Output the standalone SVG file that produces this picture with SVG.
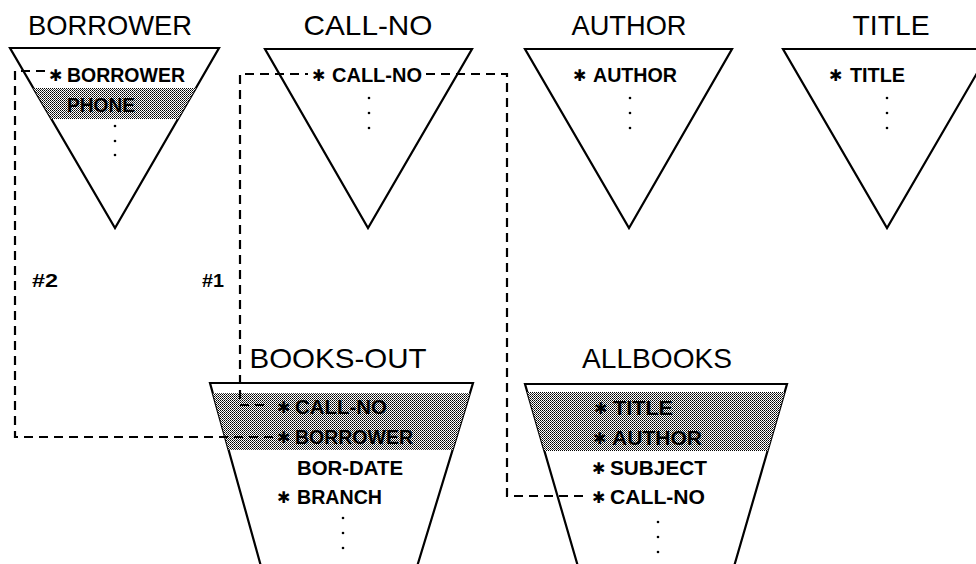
<svg xmlns="http://www.w3.org/2000/svg" width="976" height="564" viewBox="0 0 976 564">
  <defs>
    <pattern id="dither" patternUnits="userSpaceOnUse" width="2" height="2">
      <rect width="2" height="2" fill="#ffffff"/>
      <rect x="0" y="0" width="1" height="1" fill="#000000"/>
      <rect x="1" y="1" width="1" height="1" fill="#3a3a3a"/>
    </pattern>
    <clipPath id="clipBorrower"><polygon points="10,48 219,48 115,228"/></clipPath>
    <clipPath id="clipBooksOut"><path d="M 262 570 L 210 383 L 473 383 L 416 570 Z"/></clipPath>
    <clipPath id="clipAllbooks"><path d="M 579 570 L 525 384 L 787 384 L 733 570 Z"/></clipPath>
  </defs>
  <style>
    .shape { fill: #ffffff; stroke: #000000; stroke-width: 2.2; stroke-linejoin: miter; }
    .band { fill: url(#dither); stroke: none; }
    .title { font-family: "Liberation Sans", Arial, sans-serif; font-size: 28px; fill: #000000; text-anchor: middle; }
    .field { font-family: "Liberation Sans", Arial, sans-serif; font-size: 21px; font-weight: bold; fill: #000000; }
    .star { font-family: "DejaVu Sans", sans-serif; font-size: 16px; fill: #000000; }
    .label { font-family: "Liberation Sans", Arial, sans-serif; font-size: 19px; font-weight: bold; fill: #000000; }
    .dot { fill: #000000; }
    .conn { fill: none; stroke: #000000; stroke-width: 2.2; stroke-dasharray: 9 6; }
  </style>
  <rect width="976" height="564" fill="#ffffff"/>

  <g id="node-borrower">
    <text class="title" x="110" y="35" textLength="164" lengthAdjust="spacingAndGlyphs">BORROWER</text>
    <polygon class="shape" points="10,48 219,48 115,228"/>
    <rect class="band" x="0" y="88" width="230" height="31" clip-path="url(#clipBorrower)"/>
    <text class="star" x="49" y="81">✱</text>
    <text class="field" x="67" y="82" textLength="118" lengthAdjust="spacingAndGlyphs">BORROWER</text>
    <text class="field" x="67" y="112" textLength="68" lengthAdjust="spacingAndGlyphs">PHONE</text>
    <circle class="dot" cx="115" cy="126" r="1.3"/>
    <circle class="dot" cx="115" cy="141" r="1.3"/>
    <circle class="dot" cx="115" cy="155" r="1.3"/>
  </g>

  <g id="node-callno">
    <text class="title" x="368" y="35" textLength="129" lengthAdjust="spacingAndGlyphs">CALL-NO</text>
    <polygon class="shape" points="265,49 472,49 368,228"/>
    <text class="star" x="312" y="81">✱</text>
    <text class="field" x="332" y="82" textLength="90" lengthAdjust="spacingAndGlyphs">CALL-NO</text>
    <circle class="dot" cx="369" cy="98" r="1.3"/>
    <circle class="dot" cx="369" cy="113" r="1.3"/>
    <circle class="dot" cx="369" cy="128" r="1.3"/>
  </g>

  <g id="node-author">
    <text class="title" x="629" y="35" textLength="115" lengthAdjust="spacingAndGlyphs">AUTHOR</text>
    <polygon class="shape" points="525,49 732,49 629,228"/>
    <text class="star" x="573" y="81">✱</text>
    <text class="field" x="593" y="82" textLength="84" lengthAdjust="spacingAndGlyphs">AUTHOR</text>
    <circle class="dot" cx="630" cy="98" r="1.3"/>
    <circle class="dot" cx="630" cy="113" r="1.3"/>
    <circle class="dot" cx="630" cy="128" r="1.3"/>
  </g>

  <g id="node-title">
    <text class="title" x="891" y="35" textLength="77" lengthAdjust="spacingAndGlyphs">TITLE</text>
    <polygon class="shape" points="783,49 991,49 887,228"/>
    <text class="star" x="829" y="81">✱</text>
    <text class="field" x="850" y="82" textLength="55" lengthAdjust="spacingAndGlyphs">TITLE</text>
    <circle class="dot" cx="887" cy="98" r="1.3"/>
    <circle class="dot" cx="887" cy="113" r="1.3"/>
    <circle class="dot" cx="887" cy="128" r="1.3"/>
  </g>

  <g id="node-books-out">
    <text class="title" x="338" y="368" textLength="177" lengthAdjust="spacingAndGlyphs">BOOKS-OUT</text>
    <path class="shape" d="M 262 570 L 210 383 L 473 383 L 416 570"/>
    <rect class="band" x="200" y="393" width="280" height="57" clip-path="url(#clipBooksOut)"/>
    <text class="star" x="277" y="413">✱</text>
    <text class="field" x="295" y="414" textLength="92" lengthAdjust="spacingAndGlyphs">CALL-NO</text>
    <text class="star" x="277" y="443">✱</text>
    <text class="field" x="295" y="444" textLength="118" lengthAdjust="spacingAndGlyphs">BORROWER</text>
    <text class="field" x="297" y="475" textLength="106" lengthAdjust="spacingAndGlyphs">BOR-DATE</text>
    <text class="star" x="277" y="503">✱</text>
    <text class="field" x="297" y="504" textLength="85" lengthAdjust="spacingAndGlyphs">BRANCH</text>
    <circle class="dot" cx="343" cy="518" r="1.3"/>
    <circle class="dot" cx="343" cy="533" r="1.3"/>
    <circle class="dot" cx="343" cy="548" r="1.3"/>
  </g>

  <g id="node-allbooks">
    <text class="title" x="657" y="368" textLength="150" lengthAdjust="spacingAndGlyphs">ALLBOOKS</text>
    <path class="shape" d="M 579 570 L 525 384 L 787 384 L 733 570"/>
    <rect class="band" x="515" y="392" width="280" height="59" clip-path="url(#clipAllbooks)"/>
    <text class="star" x="594" y="414">✱</text>
    <text class="field" x="613" y="415" textLength="60" lengthAdjust="spacingAndGlyphs">TITLE</text>
    <text class="star" x="593" y="444">✱</text>
    <text class="field" x="612" y="445" textLength="90" lengthAdjust="spacingAndGlyphs">AUTHOR</text>
    <text class="star" x="592" y="474">✱</text>
    <text class="field" x="610" y="475" textLength="97" lengthAdjust="spacingAndGlyphs">SUBJECT</text>
    <text class="star" x="592" y="503">✱</text>
    <text class="field" x="610" y="504" textLength="95" lengthAdjust="spacingAndGlyphs">CALL-NO</text>
    <circle class="dot" cx="658" cy="522" r="1.3"/>
    <circle class="dot" cx="658" cy="537" r="1.3"/>
    <circle class="dot" cx="658" cy="552" r="1.3"/>
  </g>

  <g id="connectors">
    <path class="conn" d="M 45 71 H 15 V 437 H 273"/>
    <path class="conn" d="M 264 405 H 240 V 74 H 308 M 426 74 H 507 V 496 H 588"/>
    <text class="label" x="32" y="287" textLength="26" lengthAdjust="spacingAndGlyphs">#2</text>
    <text class="label" x="202" y="287" textLength="22" lengthAdjust="spacingAndGlyphs">#1</text>
  </g>
</svg>
